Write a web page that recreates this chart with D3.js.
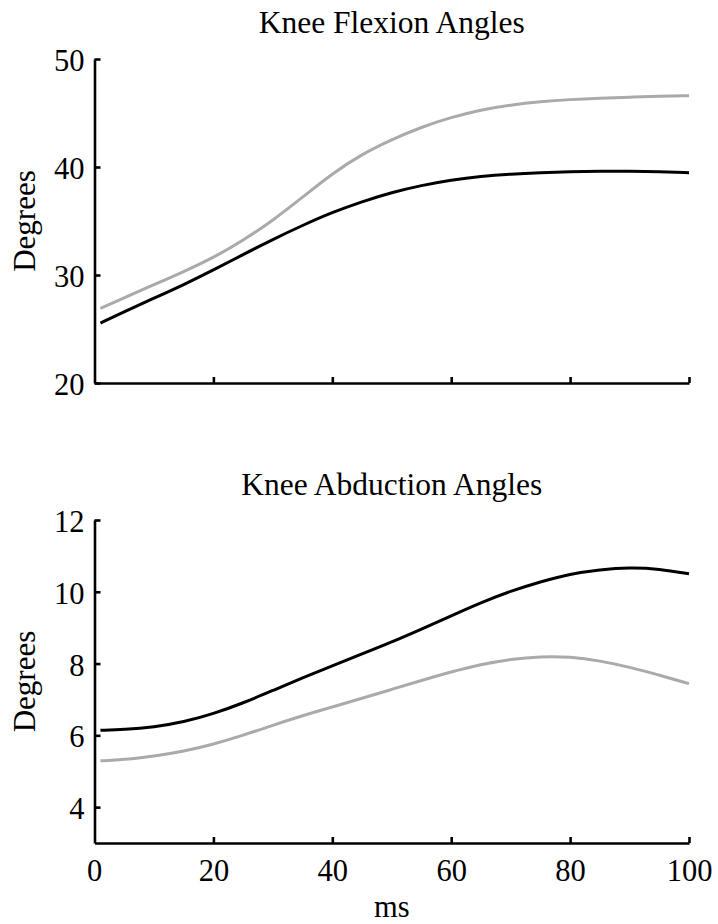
<!DOCTYPE html>
<html>
<head>
<meta charset="utf-8">
<script src="https://cdn.jsdelivr.net/npm/d3@7"></script>
<style>
  html, body { margin: 0; padding: 0; background: #fff; }
  svg { display: block; }
  text { font-family: "Liberation Serif", "Times New Roman", serif; fill: #000; }
</style>
</head>
<body>
<svg id="chart" width="718" height="924"></svg>
<script>
// ---- data ----
const timeMs = [1, 5, 10, 15, 20, 25, 30, 35, 40, 45, 50, 55, 60, 65, 70, 75, 80, 85, 90, 95, 100];

const flexionBlack = [25.55, 26.6, 27.85, 29.1, 30.45, 31.9, 33.3, 34.6, 35.8, 36.8, 37.65, 38.3, 38.8, 39.15, 39.35, 39.48, 39.57, 39.6, 39.62, 39.58, 39.47];
const flexionGray  = [26.9, 27.9, 29.1, 30.3, 31.6, 33.2, 35.05, 37.2, 39.4, 41.2, 42.55, 43.7, 44.6, 45.3, 45.75, 46.05, 46.25, 46.38, 46.47, 46.55, 46.6];

const abductionBlack = [6.14, 6.16, 6.23, 6.37, 6.6, 6.9, 7.25, 7.6, 7.94, 8.27, 8.6, 8.96, 9.33, 9.7, 10.02, 10.28, 10.5, 10.62, 10.68, 10.64, 10.5];
const abductionGray  = [5.29, 5.32, 5.42, 5.55, 5.75, 6.0, 6.28, 6.55, 6.79, 7.03, 7.28, 7.53, 7.77, 7.98, 8.12, 8.2, 8.19, 8.08, 7.9, 7.68, 7.44];

const xTicks = [0, 20, 40, 60, 80, 100];
const flexionYTicks = [20, 30, 40, 50];
const abductionYTicks = [4, 6, 8, 10, 12];

const titles = ["Knee Flexion Angles", "Knee Abduction Angles"];
const yLabel = "Degrees";
const xLabel = "ms";

// ---- layout ----
const svg = d3.select("#chart");
const left = 94.5, right = 689;

const panels = [
  { title: titles[0], top: 59, bottom: 383, domain: [20, 50], yTicks: flexionYTicks,
    series: [flexionGray, flexionBlack], showXLabels: false, titleY: 33 },
  { title: titles[1], top: 520, bottom: 843, domain: [3, 12], yTicks: abductionYTicks,
    series: [abductionGray, abductionBlack], showXLabels: true, titleY: 495 }
];
const colors = ["#aaaaaa", "#000000"];

const x = d3.scaleLinear().domain([0, 100]).range([left, right]);

panels.forEach(p => {
  const y = d3.scaleLinear().domain(p.domain).range([p.bottom, p.top]);
  const g = svg.append("g");

  // lines
  p.series.forEach((vals, i) => {
    const pts = timeMs.map((t, k) => [t, vals[k]]);
    g.append("path")
      .datum(pts)
      .attr("fill", "none")
      .attr("stroke", colors[i])
      .attr("stroke-width", 3)
      .attr("stroke-linejoin", "round")
      .attr("d", d3.line().x(d => x(d[0])).y(d => y(d[1])).curve(d3.curveBasis));
  });

  // x axis
  const xAxis = d3.axisBottom(x)
    .tickValues(xTicks.filter(v => v > 0))
    .tickSizeInner(-6).tickSizeOuter(0).tickPadding(16)
    .tickFormat(p.showXLabels ? d3.format("d") : () => "");
  const gx = g.append("g").attr("transform", `translate(0,${p.bottom})`).call(xAxis);

  // y axis
  const yAxis = d3.axisLeft(y)
    .tickValues(p.yTicks)
    .tickSizeInner(-6).tickSizeOuter(0).tickPadding(10)
    .tickFormat(d3.format("d"));
  const gy = g.append("g").attr("transform", `translate(${left},0)`).call(yAxis);

  [gx, gy].forEach(ax => {
    ax.select(".domain").attr("stroke", "#000").attr("stroke-width", 2.6);
    ax.selectAll(".tick line").attr("stroke", "#000").attr("stroke-width", 2.6);
    ax.selectAll(".tick text")
      .style("font-family", "'Liberation Serif', 'Times New Roman', serif")
      .style("font-size", "30.5px")
      .attr("fill", "#000");
  });
  gy.selectAll(".tick text").attr("dy", "0.38em");

  if (p.showXLabels) {
    // the 0 label, which sits under the y axis
    gx.append("text")
      .attr("x", x(0)).attr("y", 16).attr("dy", "0.71em")
      .attr("text-anchor", "middle")
      .style("font-family", "'Liberation Serif', 'Times New Roman', serif")
      .style("font-size", "30.5px")
      .attr("fill", "#000")
      .text("0");
  }

  // title
  svg.append("text")
    .attr("x", (left + right) / 2).attr("y", p.titleY)
    .attr("text-anchor", "middle")
    .style("font-size", "31.5px")
    .text(p.title);

  // y label
  svg.append("text")
    .attr("transform", `translate(35,${(p.top + p.bottom) / 2}) rotate(-90)`)
    .attr("text-anchor", "middle")
    .style("font-size", "31px")
    .text(yLabel);
});

// x label
svg.append("text")
  .attr("x", (left + right) / 2).attr("y", 917)
  .attr("text-anchor", "middle")
  .style("font-size", "30.5px")
  .text(xLabel);
</script>
</body>
</html>
